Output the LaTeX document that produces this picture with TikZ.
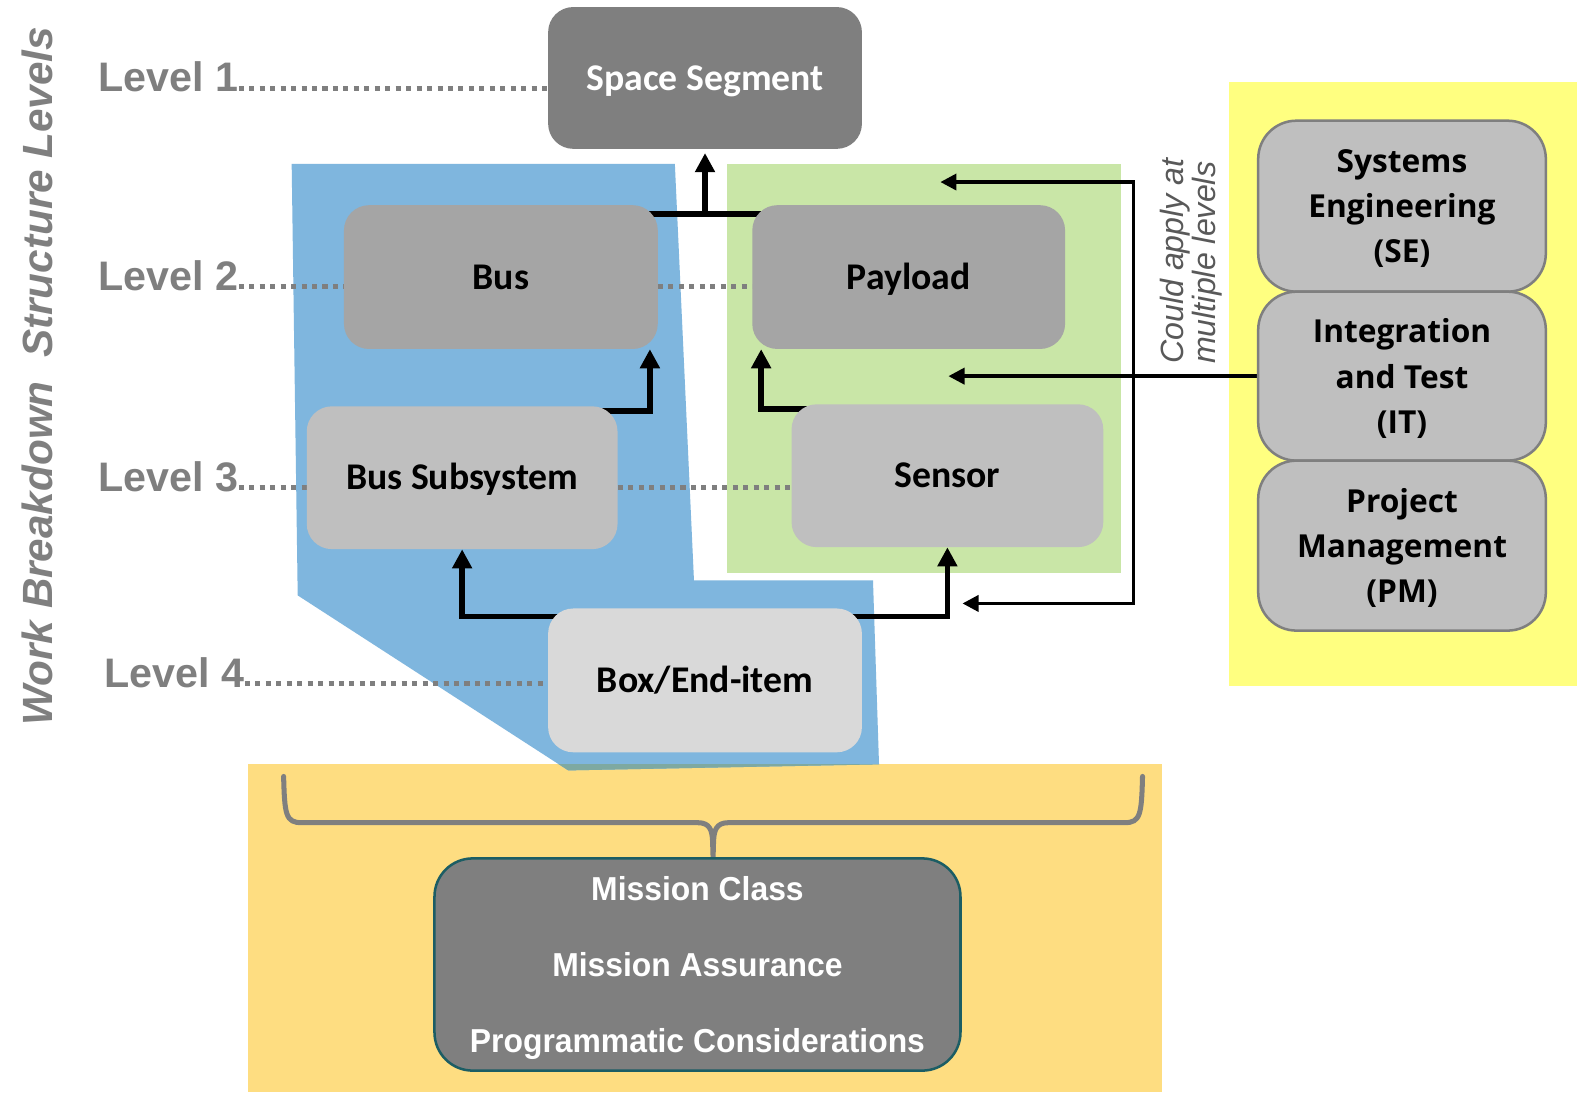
\documentclass[tikz,border=0pt]{standalone}
\usepackage{fontspec}
\setmainfont{Liberation Sans}
\newfontfamily\calf{Carlito}
\newfontfamily\narrowf[FakeStretch=0.96]{Liberation Sans}
\newfontfamily\osf{Open Sans}
\usetikzlibrary{arrows.meta}
\pgfdeclarelayer{bg}
\pgfdeclarelayer{lines}
\pgfsetlayers{bg,lines,main}
\definecolor{bluebg}{HTML}{7FB6DE}
\definecolor{greenbg}{HTML}{C9E6A7}
\definecolor{ylw}{HTML}{FFFF80}
\definecolor{orng}{HTML}{FEDD81}
\definecolor{mixc}{HTML}{7EA9A1}
\definecolor{gA}{HTML}{7F7F7F}
\definecolor{gB}{HTML}{A5A5A5}
\definecolor{gC}{HTML}{BFBFBF}
\definecolor{gD}{HTML}{D9D9D9}
\definecolor{gT}{HTML}{595959}
\definecolor{tealb}{HTML}{1C5D64}
\begin{document}
\begin{tikzpicture}[x=1pt,y=-1pt,
  lvl/.style={font=\bfseries\fontsize{41}{44}\selectfont, text=gA, inner sep=0pt, anchor=base west},
  wbox/.style={rounded corners=25pt, inner sep=0pt, align=center, text height=24pt, text depth=0pt, font=\calf\bfseries\fontsize{37.5}{40}\selectfont},
  sbox/.style={rounded corners=38pt, draw=gA, line width=2.5pt, fill=gC, inner sep=0pt, align=center, text depth=0pt, minimum width=286pt, font=\osf\bfseries\fontsize{31.5}{45}\selectfont},
  mbox/.style={rounded corners=38pt, draw=tealb, line width=2.5pt, fill=gA, text=white, inner sep=0pt, align=center, text depth=0pt, font=\narrowf\bfseries\fontsize{33}{75.5}\selectfont},
  dotsty/.style={draw=gA, line width=5pt, dash pattern=on 5pt off 5.4pt},
  thickline/.style={line width=5.5pt},
  thickarr/.style={line width=5.5pt, -{Triangle[length=19pt,width=19pt]}},
  thinarr/.style={line width=3.5pt, -{Triangle[length=16pt,width=16pt]}},
  bothinarr/.style={line width=3.5pt, {Triangle[length=16pt,width=16pt]}-{Triangle[length=16pt,width=16pt]}},
  bracesty/.style={draw=gA, line width=5pt, line cap=round}
]
\useasboundingbox (0,0) rectangle (1568,1086);

% ---------- nodes ----------
\node[lvl] (l1) at (98,91) {Level 1};
\node[lvl] (l2) at (98,289) {Level 2};
\node[lvl] (l3) at (98,489) {Level 3};
\node[lvl] (l4) at (104,684) {Level 4};

\node[rotate=90, text=gA, inner sep=0pt, font=\bfseries\itshape\fontsize{42}{45}\selectfont] (wbs) at (37,374) {Work Breakdown\ \ Structure Levels};

\node[wbox, fill=gA, text=white, minimum width=312pt, minimum height=141pt] (ss) at (701,77.5) {Space Segment};
\node[wbox, fill=gB, minimum width=312pt, minimum height=143pt] (bus) at (498,275.5) {Bus};
\node[wbox, fill=gB, minimum width=311pt, minimum height=143pt] (pay) at (903.5,275.5) {Payload};
\node[wbox, fill=gC, minimum width=309pt, minimum height=142pt] (bsub) at (459.5,475) {Bus Subsystem};
\node[wbox, fill=gC, minimum width=310pt, minimum height=142pt] (sen) at (942,473) {Sensor};
\node[wbox, fill=gD, minimum width=312pt, minimum height=143pt] (box) at (701,676.5) {Box/End-item};

\node[sbox, minimum height=170pt] (se) at (1394,205) {Systems\\Engineering\\(SE)};
\node[sbox, minimum height=168pt] (it) at (1394,374) {Integration\\and Test\\(IT)};
\node[sbox, minimum height=169pt] (pm) at (1394,542.5) {Project\\Management\\(PM)};

\node[mbox, minimum width=523pt, minimum height=211pt] (mis) at (693.5,959) {Mission Class\\Mission Assurance\\Programmatic Considerations};

\node[rotate=90, anchor=west, align=left, inner sep=0pt, text=gT, font=\itshape\fontsize{32}{32}\selectfont] (could) at (1184,362) {Could apply at\\multiple levels};

% ---------- backgrounds ----------
\begin{pgfonlayer}{bg}
\fill[white] (0,0) rectangle (1568,1086);
\fill[ylw] (1222,82) rectangle (1568,682);
\fill[orng] (247,760) rectangle (1155,1086);
\fill[greenbg] (723,163) rectangle (1115,570);
\fill[bluebg] (290,163) -- (671,163) -- (690,577) -- (868,577) -- (874,760) -- (565,766) -- (296,592) -- cycle;
\begin{scope}
\clip (247,760) rectangle (1155,1086);
\fill[mixc] (290,163) -- (671,163) -- (690,577) -- (868,577) -- (874,760) -- (565,766) -- (296,592) -- cycle;
\end{scope}
\end{pgfonlayer}

% ---------- connectors ----------
\begin{pgfonlayer}{lines}
\coordinate (d1) at ([yshift=3pt]l1.base east);
\coordinate (d2) at ([yshift=4pt]l2.base east);
\coordinate (d3) at ([yshift=4pt]l3.base east);
\coordinate (d4) at ([yshift=4pt]l4.base east);
\draw[dotsty] (d1) -- (d1 -| ss.west);
\draw[dotsty] (d2) -- (d2 -| bus.west);
\draw[dotsty] (d2 -| bus.east) -- (d2 -| pay.west);
\draw[dotsty] (d3) -- (d3 -| bsub.west);
\draw[dotsty] (d3 -| bsub.east) -- (d3 -| sen.west);
\draw[dotsty] (d4) -- (d4 -| box.west);

\coordinate (j) at ([yshift=-9pt]bus.north);
\draw[thickline] (j) -- (j -| pay.center);
\draw[thickarr, shorten >=4pt] (j -| ss.south) -- (ss.south);
\draw[thickarr] ([yshift=-5pt]bsub.north) -| ([xshift=-8pt]bus.south east);
\draw[thickarr] ([yshift=-5pt]sen.north) -| ([xshift=9pt]pay.south west);
\draw[thickarr] ([yshift=-8pt]box.north) -| (bsub.south);
\draw[thickarr] ([yshift=-8pt]box.north) -| (sen.south);

\coordinate (a1) at (935,181);
\coordinate (a2) at (957,600);
\coordinate (a3) at (943,374);
\coordinate (v1) at (1127,181);
\coordinate (v2) at (1127,600);
\draw[bothinarr] (a1) -- (v1) -- (v2) -- (a2);
\draw[thinarr] (it.west) -- (it.west -| a3);

\coordinate (bx) at (709,0);
\draw[bracesty] (282,772) .. controls (283,810) and (284,818) .. (300,818) -- (694,818)
  .. controls (706,818) and (708,826) .. (708.5,836) -- (bx |- mis.north)
  -- (709.5,836) .. controls (710,826) and (712,818) .. (724,818) -- (1118,818)
  .. controls (1134,818) and (1135,810) .. (1136,772);
\end{pgfonlayer}
\end{tikzpicture}
\end{document}
